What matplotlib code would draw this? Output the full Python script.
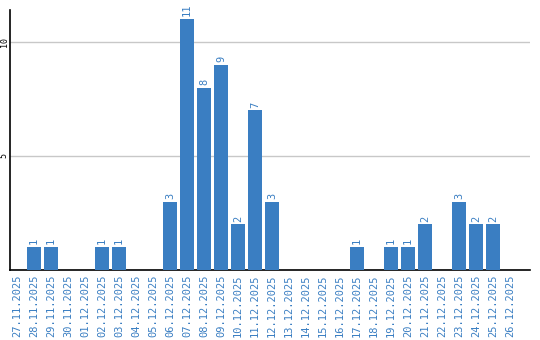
import matplotlib
matplotlib.use('Agg')
import matplotlib.pyplot as plt

# data
dates = ['27.11.2025', '28.11.2025', '29.11.2025', '30.11.2025', '01.12.2025',
         '02.12.2025', '03.12.2025', '04.12.2025', '05.12.2025', '06.12.2025',
         '07.12.2025', '08.12.2025', '09.12.2025', '10.12.2025', '11.12.2025',
         '12.12.2025', '13.12.2025', '14.12.2025', '15.12.2025', '16.12.2025',
         '17.12.2025', '18.12.2025', '19.12.2025', '20.12.2025', '21.12.2025',
         '22.12.2025', '23.12.2025', '24.12.2025', '25.12.2025', '26.12.2025']
counts = [0, 1, 1, 0, 0, 1, 1, 0, 0, 3, 11, 8, 9, 2, 7, 3, 0, 0, 0, 0,
          1, 0, 1, 1, 2, 0, 3, 2, 2, 0]
yticks = [5, 10]

blue = '#3a7ec2'
mono = 'DejaVu Sans Mono'

fig = plt.figure(figsize=(5.4, 3.4), dpi=100)
ax = fig.add_axes([10 / 540, 70 / 340, 520 / 540, 260 / 340])

x = list(range(len(dates)))
ax.bar(x, counts, width=0.82, color=blue, zorder=3)

# value labels above non-empty bars
for xi, c in zip(x, counts):
    if c > 0:
        ax.text(xi, c + 0.12, str(c), rotation=90, ha='center', va='bottom',
                color=blue, fontsize=7.5, family=mono, clip_on=False)

ax.set_xlim(-0.41, 30.18)
ax.set_ylim(0, 11.4)
ax.set_xticks(x)
ax.set_xticklabels(dates, rotation=90, color=blue, fontsize=7.5, family=mono)
ax.set_yticks(yticks)
ax.set_yticklabels([str(v) for v in yticks], rotation=90, va='center',
                   fontsize=6, family=mono)
ax.tick_params(length=0, pad=3)
ax.tick_params(axis='y', pad=1)
ax.grid(axis='y', color='#c8c8c8', linewidth=1, zorder=0)

for side in ['top', 'right']:
    ax.spines[side].set_visible(False)
ax.spines['left'].set_linewidth(1.2)
ax.spines['bottom'].set_linewidth(1.2)

fig.savefig('out.png', dpi=100)
